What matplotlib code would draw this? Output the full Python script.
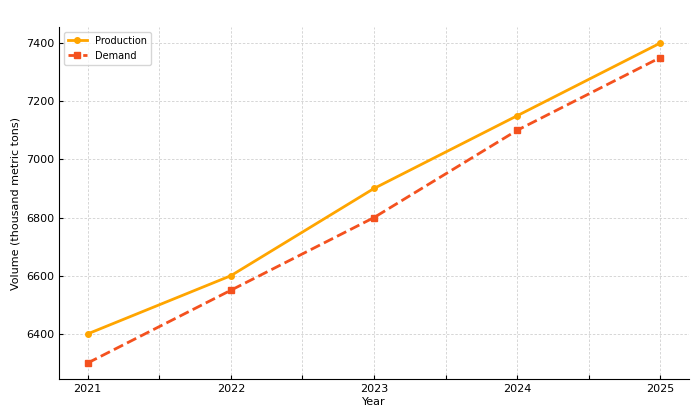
import matplotlib
matplotlib.use("Agg")
import matplotlib.pyplot as plt
import numpy as np

years = [2021, 2022, 2023, 2024, 2025]
production = [6400, 6600, 6900, 7150, 7400]
demand = [6300, 6550, 6800, 7100, 7350]

fig = plt.figure(figsize=(7, 4.2), dpi=100)
ax = fig.add_axes([59/700, 1-379/420, 630/700, 352/420])

ax.plot(years, production, color='#FFA500', linewidth=2, marker='o', markersize=4, label='Production')
ax.plot(years, demand, color='#F4511E', linewidth=2, linestyle='--', marker='s', markersize=4, label='Demand')

xt = np.arange(2021, 2025.01, 0.5)
ax.set_xticks(xt)
ax.set_xticklabels([str(int(v)) if v == int(v) else '' for v in xt])
ax.set_yticks([6400, 6600, 6800, 7000, 7200, 7400])
ax.set_ylim(6245, 7455)
ax.set_xlim(2020.8, 2025.2)

ax.grid(True, linestyle=(0, (3, 2)), color='#d0d0d0', linewidth=0.6)
ax.tick_params(direction='in', length=3, labelsize=8)
for s in ['top', 'right']:
    ax.spines[s].set_visible(False)

ax.set_xlabel('Year', fontsize=8, labelpad=2)
ax.set_ylabel('Volume (thousand metric tons)', fontsize=8)
ax.legend(loc='upper left', fontsize=7)

fig.savefig('out.png', dpi=100)
